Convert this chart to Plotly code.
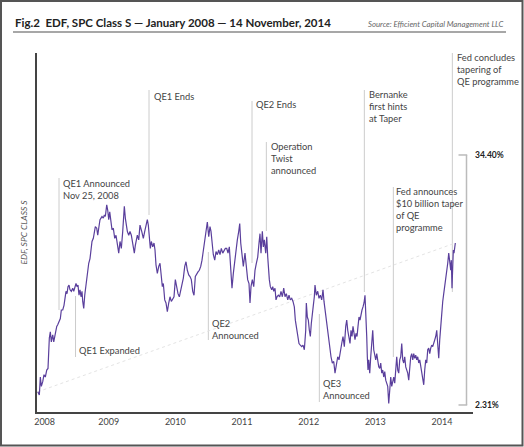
import plotly.graph_objects as go

# ---------------- data ----------------
# x: position in years on the chart's time axis, y: EDF value in %
edf_x_2008 = [2007.936, 2007.960, 2007.975, 2007.990, 2008.011, 2008.030, 2008.050, 2008.071, 2008.090, 2008.101,
              2008.110, 2008.125, 2008.140, 2008.150, 2008.161, 2008.176, 2008.191, 2008.210, 2008.221, 2008.236,
              2008.260, 2008.275, 2008.290, 2008.311, 2008.330, 2008.345, 2008.360, 2008.375, 2008.390, 2008.405,
              2008.420, 2008.440, 2008.461, 2008.476, 2008.495, 2008.510, 2008.525, 2008.540, 2008.555, 2008.570,
              2008.585, 2008.600, 2008.611, 2008.626, 2008.641, 2008.650, 2008.660, 2008.671, 2008.686, 2008.701,
              2008.720, 2008.735, 2008.750, 2008.770, 2008.785, 2008.800, 2008.821, 2008.836, 2008.851, 2008.870,
              2008.885, 2008.900, 2008.920, 2008.935, 2008.950, 2008.971, 2008.986]
edf_y_2008 = [4.0, 3.6, 5.9, 4.7, 5.3, 6.2, 5.9, 6.8, 7.0, 9.2,
              10.9, 11.7, 10.4, 10.9, 11.3, 10.4, 11.1, 11.7, 12.4, 12.6,
              13.2, 13.4, 14.5, 14.5, 15.1, 16.4, 16.9, 16.6, 17.5, 17.7,
              17.1, 16.9, 17.3, 16.9, 17.5, 17.9, 17.5, 17.7, 16.4, 17.1,
              16.2, 16.9, 15.6, 14.7, 16.4, 17.1, 17.7, 18.6, 20.1, 20.5,
              21.1, 22.4, 23.3, 23.7, 24.6, 25.2, 25.0, 24.1, 25.0, 26.1,
              26.3, 26.5, 26.3, 26.7, 26.5, 28.0, 27.3]

edf_x_2009 = [2009.001, 2009.016, 2009.031, 2009.050, 2009.070, 2009.091, 2009.110, 2009.130, 2009.151, 2009.170,
              2009.190, 2009.211, 2009.226, 2009.235, 2009.250, 2009.265, 2009.280, 2009.301, 2009.320, 2009.340,
              2009.355, 2009.370, 2009.385, 2009.400, 2009.415, 2009.430, 2009.451, 2009.470, 2009.496, 2009.520,
              2009.541, 2009.560, 2009.580, 2009.595, 2009.610, 2009.625, 2009.640, 2009.661, 2009.680, 2009.695,
              2009.710, 2009.730, 2009.751, 2009.770, 2009.790, 2009.805, 2009.820, 2009.841, 2009.860, 2009.880,
              2009.901, 2009.920, 2009.940, 2009.961, 2009.980]
edf_y_2009 = [26.1, 27.1, 25.8, 24.8, 25.0, 23.7, 24.1, 22.8, 21.8, 23.3,
              22.4, 24.6, 26.3, 27.8, 26.3, 25.0, 24.6, 24.1, 24.6, 24.1,
              23.3, 22.4, 21.8, 22.8, 23.3, 24.1, 23.5, 25.4, 24.6, 23.7,
              24.6, 25.2, 26.1, 25.4, 23.5, 22.4, 23.3, 22.6, 23.1, 22.2,
              20.3, 19.2, 20.1, 20.5, 18.8, 17.5, 17.9, 15.8, 15.4, 14.3,
              15.4, 16.2, 15.6, 16.0, 16.2]

edf_x_2010 = [2010.000, 2010.021, 2010.040, 2010.060, 2010.081, 2010.100, 2010.120, 2010.141, 2010.160, 2010.180,
              2010.201, 2010.220, 2010.240, 2010.261, 2010.280, 2010.300, 2010.321, 2010.340, 2010.360, 2010.381,
              2010.400, 2010.420, 2010.441, 2010.460, 2010.480, 2010.501, 2010.520, 2010.535, 2010.550, 2010.570,
              2010.591, 2010.610, 2010.630, 2010.651, 2010.670, 2010.690, 2010.711, 2010.730, 2010.750, 2010.771,
              2010.790, 2010.810, 2010.831, 2010.850, 2010.870, 2010.891, 2010.910, 2010.930, 2010.951, 2010.966,
              2010.981]
edf_y_2010 = [18.4, 17.1, 16.6, 16.2, 17.1, 18.1, 18.6, 20.1, 20.7, 19.6,
              19.0, 18.8, 18.4, 16.9, 16.4, 18.8, 19.2, 19.4, 19.6, 20.1,
              20.9, 22.2, 23.1, 24.3, 25.8, 23.9, 25.2, 24.6, 23.3, 21.6,
              20.9, 22.0, 21.6, 22.2, 21.6, 22.4, 21.8, 22.2, 22.4, 22.4,
              21.8, 22.6, 19.6, 17.3, 19.2, 20.9, 21.8, 23.5, 24.6, 25.6,
              23.1]

edf_x_2011 = [2011.000, 2011.020, 2011.045, 2011.070, 2011.085, 2011.105, 2011.120, 2011.135, 2011.155, 2011.176,
              2011.195, 2011.215, 2011.236, 2011.255, 2011.270, 2011.285, 2011.305, 2011.320, 2011.335, 2011.356,
              2011.371, 2011.386, 2011.395, 2011.410, 2011.425, 2011.446, 2011.461, 2011.476, 2011.495, 2011.510,
              2011.525, 2011.545, 2011.566, 2011.585, 2011.605, 2011.626, 2011.645, 2011.665, 2011.686, 2011.705,
              2011.725, 2011.746, 2011.765, 2011.785, 2011.800, 2011.815, 2011.836, 2011.855, 2011.875, 2011.896,
              2011.915, 2011.935, 2011.956, 2011.965, 2011.980, 2011.995]
edf_y_2011 = [21.8, 20.1, 21.8, 20.1, 18.4, 17.9, 15.4, 17.5, 18.4, 17.5,
              19.6, 20.5, 21.3, 23.1, 24.3, 21.8, 24.6, 22.6, 23.5, 21.8,
              23.9, 21.3, 19.6, 18.4, 17.5, 17.1, 17.5, 16.9, 17.3, 15.8,
              16.2, 16.4, 16.2, 16.9, 16.2, 17.3, 16.2, 16.6, 15.8, 16.4,
              15.8, 16.0, 15.6, 14.9, 13.2, 12.4, 11.5, 10.2, 10.0, 9.8,
              10.0, 9.4, 11.9, 15.4, 13.6, 13.2]

edf_x_2012 = [2012.010, 2012.025, 2012.040, 2012.055, 2012.070, 2012.085, 2012.095, 2012.115, 2012.136, 2012.155,
              2012.175, 2012.196, 2012.215, 2012.230, 2012.245, 2012.260, 2012.275, 2012.295, 2012.316, 2012.335,
              2012.355, 2012.376, 2012.395, 2012.415, 2012.436, 2012.455, 2012.475, 2012.496, 2012.515, 2012.535,
              2012.556, 2012.571, 2012.586, 2012.605, 2012.620, 2012.635, 2012.650, 2012.665, 2012.680, 2012.695,
              2012.710, 2012.725, 2012.740, 2012.755, 2012.770, 2012.785, 2012.800, 2012.815, 2012.830, 2012.845,
              2012.860, 2012.871, 2012.880, 2012.890, 2012.901, 2012.916, 2012.931, 2012.946, 2012.961, 2012.976,
              2012.991]
edf_y_2012 = [11.9, 11.1, 12.8, 14.5, 15.1, 16.2, 17.7, 16.4, 16.9, 16.0,
              16.4, 15.8, 17.1, 15.6, 14.5, 13.6, 12.4, 11.1, 9.8, 8.5,
              7.7, 7.9, 6.4, 7.7, 8.5, 8.1, 9.4, 10.2, 11.1, 9.8,
              12.4, 13.2, 11.9, 10.7, 10.2, 11.9, 11.1, 12.4, 11.5, 10.7,
              11.5, 11.1, 12.4, 13.6, 13.2, 14.1, 14.5, 14.9, 15.4, 16.4,
              14.1, 11.1, 8.5, 6.8, 8.1, 6.4, 8.5, 9.8, 11.9, 9.4,
              8.5]

edf_x_2013 = [2013.006, 2013.021, 2013.036, 2013.051, 2013.066, 2013.081, 2013.096, 2013.111, 2013.126, 2013.141,
              2013.156, 2013.171, 2013.186, 2013.201, 2013.216, 2013.231, 2013.246, 2013.261, 2013.276, 2013.291,
              2013.306, 2013.321, 2013.336, 2013.351, 2013.366, 2013.381, 2013.396, 2013.411, 2013.426, 2013.441,
              2013.456, 2013.471, 2013.486, 2013.501, 2013.516, 2013.531, 2013.546, 2013.561, 2013.576, 2013.591,
              2013.606, 2013.621, 2013.636, 2013.651, 2013.666, 2013.681, 2013.696, 2013.711, 2013.726, 2013.741,
              2013.756, 2013.771, 2013.786, 2013.801, 2013.816, 2013.831, 2013.846, 2013.861, 2013.876, 2013.891,
              2013.906, 2013.921, 2013.936, 2013.951, 2013.966, 2013.981, 2013.996]
edf_y_2013 = [8.1, 8.9, 7.9, 7.2, 7.0, 7.7, 6.4, 6.8, 5.9, 6.6,
              5.5, 5.1, 4.7, 2.5, 4.2, 5.9, 4.7, 5.5, 5.9, 5.1,
              6.8, 8.5, 6.8, 6.4, 8.1, 8.5, 10.2, 8.1, 7.7, 8.5,
              7.2, 6.8, 6.4, 5.5, 7.7, 8.5, 8.9, 8.1, 8.9, 8.3,
              8.7, 8.1, 8.5, 7.7, 8.1, 7.2, 6.4, 5.9, 4.9, 6.8,
              8.1, 7.7, 9.4, 9.6, 8.9, 9.6, 10.0, 9.8, 10.2, 10.7,
              11.1, 11.9, 10.2, 8.3, 10.7, 12.8, 14.5]

edf_x_2014 = [2014.011, 2014.026, 2014.041, 2014.056, 2014.071, 2014.086, 2014.101, 2014.110, 2014.120, 2014.131,
              2014.140, 2014.150, 2014.161, 2014.170, 2014.180, 2014.191, 2014.200]
edf_y_2014 = [15.6, 16.6, 17.5, 18.4, 19.2, 20.5, 21.8, 21.3, 20.5, 19.6,
              20.9, 17.3, 20.1, 22.2, 21.8, 22.8, 23.1]

year_ticks = [2008, 2009, 2010, 2011, 2012, 2013, 2014]
year_labels = ["\u20072008", "2009", "2010", "2011", "2012", "2013", "2014"]

event_labels = ["QE1 Announced<br>Nov 25, 2008", "QE1 Expanded", "QE1 Ends", "QE2<br>Announced",
                "QE2 Ends", "Operation<br>Twist<br>announced", "QE3<br>Announced",
                "Bernanke<br>first hints<br>at Taper",
                "Fed announces<br>$10 billion taper<br>of QE<br>programme",
                "Fed concludes<br>tapering of<br>QE programme"]
event_x = [2008.255, 2008.503, 2009.605, 2010.495, 2011.150, 2011.365, 2012.160, 2012.835, 2013.270, 2014.155]

range_values = [34.40, 2.31]
range_labels = ["34.40%", "2.31%"]

# ---------------- layout helpers (pixel placement of decorations) ----------------
W_PX, H_PX = 524, 447
L, R, T, B = 37, 473, 53, 412          # plot area in pixels
def px_x(px):
    return (px - L) / (R - L)
def px_y(py):
    return (B - py) / (B - T)

# per event: (line top px, line bottom px, text x offset px, first text line centre px)
event_layout = [(178, 310, 3.7, 184), (296, 357, 3.5, 351), (90, 215, 4.7, 97), (252, 340, 3.4, 324),
                (101, 263, 4.0, 105), (142, 231, 5.0, 147), (314, 402, 3.4, 384), (90, 292, 5.0, 95),
                (187, 357, 3.0, 192), (53, 292, 4.3, 58)]

edf_x = edf_x_2008 + edf_x_2009 + edf_x_2010 + edf_x_2011 + edf_x_2012 + edf_x_2013 + edf_x_2014
edf_y = edf_y_2008 + edf_y_2009 + edf_y_2010 + edf_y_2011 + edf_y_2012 + edf_y_2013 + edf_y_2014

FONT = "Lato, 'Open Sans', sans-serif"
TEXT_C = "#444444"
LINE_C = "#cccccc"

fig = go.Figure()
# dotted trend from start to end
fig.add_trace(go.Scatter(x=[edf_x[0], edf_x[-1]], y=[edf_y[0], edf_y[-1]], mode="lines",
                         line=dict(color="#e4e4e4", width=1, dash="dot"), hoverinfo="skip"))
fig.add_trace(go.Scatter(x=edf_x, y=edf_y, mode="lines",
                         line=dict(color="#5a3f9c", width=1.2), name="EDF, SPC Class S"))

shapes = []
annotations = []
for lab, ex, (ytop, ybot, dx, ytext) in zip(event_labels, event_x, event_layout):
    shapes.append(dict(type="line", xref="x", yref="paper", x0=ex, x1=ex,
                       y0=px_y(ybot), y1=px_y(ytop), line=dict(color=LINE_C, width=1), layer="below"))
    annotations.append(dict(xref="x", yref="paper", x=ex, y=px_y(ytext - 8), xanchor="left", yanchor="top",
                            xshift=dx - 2, text=lab, showarrow=False, align="left",
                            font=dict(family=FONT, size=9.3, color=TEXT_C)))

# range bracket on the right
shapes.append(dict(type="line", xref="paper", yref="y", x0=px_x(466.5), x1=px_x(466.5),
                   y0=range_values[1], y1=range_values[0], line=dict(color="#bbbbbb", width=1.5)))
for v in range_values:
    shapes.append(dict(type="line", xref="paper", yref="y", x0=px_x(458.5), x1=px_x(467.2),
                       y0=v, y1=v, line=dict(color="#bbbbbb", width=1.5)))
for v, lab in zip(range_values, range_labels):
    annotations.append(dict(xref="paper", yref="y", x=px_x(473), y=v, xanchor="left", yanchor="middle",
                            text="<b>" + lab + "</b>", showarrow=False,
                            font=dict(family=FONT, size=8.5, color="#222222")))

# title rule and frame
shapes.append(dict(type="line", xref="paper", yref="paper", x0=px_x(13), x1=px_x(506),
                   y0=px_y(32), y1=px_y(32), line=dict(color="#8a8a8a", width=1.6)))
shapes.append(dict(type="rect", xref="paper", yref="paper", x0=px_x(1), x1=px_x(522.5),
                   y0=px_y(445.5), y1=px_y(1), line=dict(color="#555555", width=2)))

# title and source
annotations.append(dict(xref="paper", yref="paper", x=px_x(13), y=px_y(22.5), xanchor="left", yanchor="middle",
                        text="<b>Fig.2\u00a0 EDF, SPC Class S \u2014 January 2008 \u2014 14 November, 2014</b>",
                        showarrow=False,
                        font=dict(family=FONT, size=11.5, color="#222222")))
annotations.append(dict(xref="paper", yref="paper", x=px_x(506), y=px_y(24), xanchor="right", yanchor="middle",
                        text="<i>Source: Efficient Capital Management LLC</i>", showarrow=False,
                        font=dict(family=FONT, size=7.8, color="#666666")))

fig.update_layout(
    width=W_PX, height=H_PX,
    margin=dict(l=L, r=W_PX - R, t=T, b=H_PX - B, pad=0, autoexpand=False),
    paper_bgcolor="white", plot_bgcolor="white",
    showlegend=False,
    shapes=shapes, annotations=annotations,
    xaxis=dict(range=[2007.925, 2014.465], showgrid=False, zeroline=False, automargin=False,
               showline=True, linecolor="#444444", linewidth=1.5,
               tickmode="array", tickvals=year_ticks, ticktext=year_labels, ticks="",
               tickfont=dict(family=FONT, size=9, color=TEXT_C)),
    yaxis=dict(range=[1.41, 47.49], showgrid=False, zeroline=False, showticklabels=False, automargin=False,
               showline=True, linecolor="#444444", linewidth=1.5, ticks="",
               title=dict(text="<i>EDF, SPC CLASS S</i>", standoff=6,
                          font=dict(family=FONT, size=8.5, color="#555555"))),
)

fig.write_html("out.html", config={"displayModeBar": False},
               post_script="document.body.style.margin='0';document.body.style.padding='0';")
